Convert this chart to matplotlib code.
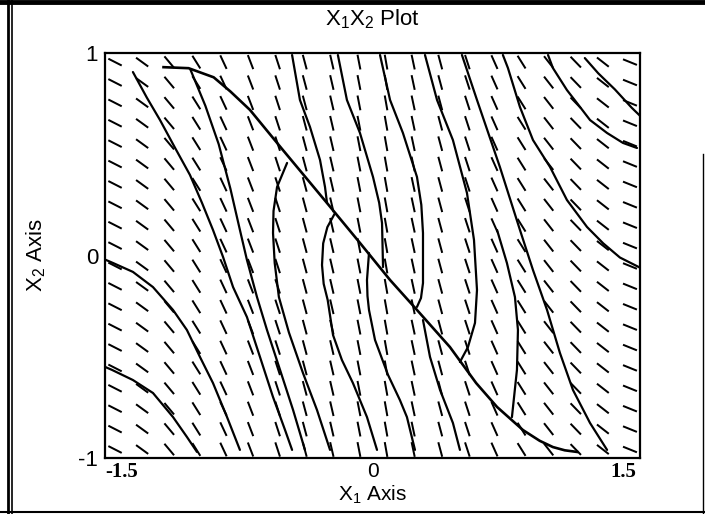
import numpy as np
import matplotlib
matplotlib.use("Agg")
import matplotlib.pyplot as plt
from matplotlib.lines import Line2D

plt.rcParams['font.family'] = ['Liberation Sans', 'DejaVu Sans']
plt.rcParams['mathtext.default'] = 'regular'

# direction field grid (20 x 20) and the slope angle of each column (deg)
field_x = np.linspace(-1.54, 1.54, 20)
field_y = np.linspace(0.955, -0.958, 20)
col_angle = [27, 36, 50, 58, 65, 69, 72, 75, 77, 79, 80, 78, 75, 72, 66, 58, 52, 46, 38, 22]

# switching curve (thick)
switch_x = [-1.25, -1.10, -0.95, -0.85, -0.733, -0.536, -0.272, -0.075, 0.105, 0.266,
            0.463, 0.62, 0.745, 0.900, 1.000, 1.079, 1.15, 1.223]
switch_y = [0.93, 0.925, 0.88, 0.81, 0.719, 0.521, 0.259, 0.062, -0.121, -0.269,
            -0.452, -0.63, -0.748, -0.862, -0.915, -0.946, -0.962, -0.970]

# trajectories
traj_x = [
    [-1.60, -1.558, -1.433, -1.313, -1.193, -1.110, -1.050],
    [-1.60, -1.552, -1.433, -1.313, -1.193, -1.110, -1.032, -0.954, -0.870, -0.793],
    [-1.433, -1.35, -1.271, -1.18, -1.092, -1.02, -0.954, -0.894, -0.834, -0.751, -0.673, -0.595, -0.523, -0.481],
    [-1.09, -1.00, -0.92, -0.85, -0.793, -0.751, -0.691, -0.631, -0.553, -0.475, -0.404],
    [-0.511, -0.571, -0.592, -0.595, -0.585, -0.560, -0.50, -0.416, -0.332, -0.254],
    [-0.481, -0.434, -0.374, -0.314, -0.284, -0.272],
    [-0.224, -0.270, -0.295, -0.302, -0.292, -0.268, -0.236, -0.183, -0.117, -0.033, 0.027],
    [-0.207, -0.153, -0.075, 0.003, 0.040, 0.057, 0.063],
    [-0.021, -0.033, -0.030, -0.021, 0.015, 0.093, 0.164, 0.206, 0.254],
    [0.045, 0.105, 0.182, 0.266, 0.292, 0.302, 0.302, 0.290, 0.266],
    [0.302, 0.344, 0.404, 0.481, 0.523],
    [0.314, 0.386, 0.481, 0.565, 0.607, 0.625, 0.613, 0.571, 0.523],
    [0.745, 0.804, 0.852, 0.870, 0.864, 0.834],
    [0.535, 0.625, 0.762, 0.882, 0.960, 1.044, 1.121, 1.199, 1.301, 1.403],
    [0.780, 0.810, 0.882, 0.960, 1.062, 1.163, 1.283, 1.380, 1.480, 1.600],
    [1.05, 1.079, 1.163, 1.223, 1.301, 1.403, 1.498, 1.582],
    [1.27, 1.35, 1.45, 1.55, 1.60],
]
traj_y = [
    [-0.55, -0.565, -0.615, -0.679, -0.798, -0.896, -0.970],
    [-0.02, -0.037, -0.081, -0.156, -0.269, -0.368, -0.501, -0.630, -0.798, -0.960],
    [0.906, 0.78, 0.669, 0.53, 0.398, 0.26, 0.126, -0.007, -0.156, -0.304, -0.501, -0.699, -0.862, -0.960],
    [0.92, 0.74, 0.55, 0.33, 0.126, -0.022, -0.205, -0.368, -0.565, -0.763, -0.960],
    [0.457, 0.338, 0.22, 0.111, -0.037, -0.205, -0.380, -0.580, -0.763, -0.960],
    [0.99, 0.768, 0.635, 0.472, 0.338, 0.259],
    [0.210, 0.140, 0.060, -0.047, -0.140, -0.220, -0.393, -0.516, -0.630, -0.798, -0.960],
    [0.99, 0.768, 0.605, 0.388, 0.260, 0.160, -0.057],
    [0.012, -0.121, -0.200, -0.269, -0.417, -0.590, -0.714, -0.798, -0.960],
    [0.99, 0.768, 0.605, 0.388, 0.250, 0.111, -0.136, -0.210, -0.254],
    [-0.319, -0.501, -0.664, -0.827, -0.960],
    [0.99, 0.768, 0.570, 0.309, 0.077, -0.170, -0.333, -0.452, -0.526],
    [0.126, -0.037, -0.205, -0.368, -0.565, -0.798],
    [0.99, 0.768, 0.437, 0.126, -0.072, -0.269, -0.481, -0.664, -0.827, -0.960],
    [0.99, 0.926, 0.733, 0.570, 0.437, 0.274, 0.141, 0.060, -0.010, -0.060],
    [0.99, 0.926, 0.817, 0.753, 0.669, 0.605, 0.556, 0.531],
    [0.975, 0.90, 0.82, 0.73, 0.69],
]

fig = plt.figure(figsize=(7.05, 5.14), dpi=100)
ax = fig.add_axes([105/705, 1 - 458/514, 535/705, 405/514])

# direction field, angles measured on screen
ang = np.radians(np.array(col_angle))
X, Y = np.meshgrid(field_x, field_y)
U = np.tile(np.cos(ang), (len(field_y), 1))
V = np.tile(-np.sin(ang), (len(field_y), 1))
ax.quiver(X, Y, U, V, angles='uv', pivot='middle', units='dots', width=2.0,
          scale_units='dots', scale=1/15.0, headwidth=0, headlength=0,
          headaxislength=0, color='black')

for xs, ys in zip(traj_x, traj_y):
    ax.plot(xs, ys, color='black', lw=1.6, solid_capstyle='round', solid_joinstyle='round')
ax.plot(switch_x, switch_y, color='black', lw=1.9, solid_joinstyle='round')

ax.set_xlim(-1.6, 1.6)
ax.set_ylim(-1, 1)
ax.set_xticks([-1.5, 0, 1.5])
ax.set_xticklabels(['-1.5', '0', '1.5'], fontsize=15)
ax.set_yticks([-1, 0, 1])
ax.set_yticklabels(['-1', '0', '1'], fontsize=16)
for lab in ax.get_xticklabels():
    if lab.get_text() != '0':
        lab.set_fontfamily('Liberation Serif')
        lab.set_fontweight('bold')
ax.tick_params(axis='x', length=0, pad=3)
ax.tick_params(axis='y', length=0, pad=5)
for s in ax.spines.values():
    s.set_linewidth(1.6)

ax.set_title('X$_1$X$_2$ Plot', fontsize=16, pad=20)
ax.set_xlabel('X$_1$ Axis', fontsize=15, labelpad=1)
ax.set_ylabel('X$_2$ Axis', fontsize=16, labelpad=22)

# outer frame of the scanned window
fig.add_artist(Line2D([8/705, 8/705], [0, 1], color='black', lw=2.0))
fig.add_artist(Line2D([11.5/705, 11.5/705], [0, 1], color='black', lw=1.2))
fig.add_artist(Line2D([0, 1], [1 - 2/514, 1 - 2/514], color='black', lw=3.5))
fig.add_artist(Line2D([0, 1], [1 - 512/514, 1 - 512/514], color='black', lw=1.5))
fig.add_artist(Line2D([703/705, 703/705], [0, 0.7], color='black', lw=1.0))

fig.savefig('out.png', dpi=100)
